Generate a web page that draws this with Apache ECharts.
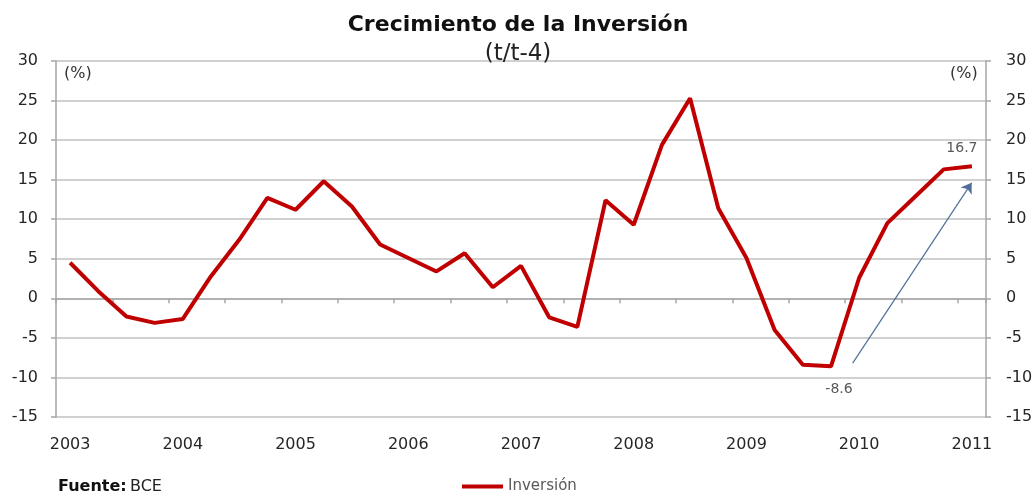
<!DOCTYPE html>
<html>
<head>
<meta charset="utf-8">
<script src="https://cdn.jsdelivr.net/npm/echarts@6/dist/echarts.min.js"></script>
<style>
  html, body { margin: 0; padding: 0; background: #fff; }
  #chart { width: 1036px; height: 496px; }
</style>
</head>
<body>
<div id="chart"></div>
<script>
// trimestres 2003T1 .. 2011T1
const quarters = [
  '2003T1', '2003T2', '2003T3', '2003T4',
  '2004T1', '2004T2', '2004T3', '2004T4',
  '2005T1', '2005T2', '2005T3', '2005T4',
  '2006T1', '2006T2', '2006T3', '2006T4',
  '2007T1', '2007T2', '2007T3', '2007T4',
  '2008T1', '2008T2', '2008T3', '2008T4',
  '2009T1', '2009T2', '2009T3', '2009T4',
  '2010T1', '2010T2', '2010T3', '2010T4',
  '2011T1'
];

// crecimiento interanual de la inversión (%)
const inversion = [
  4.5, 0.9, -2.3, -3.1,
  -2.6, 2.8, 7.4, 12.7,
  11.2, 14.8, 11.6, 6.8,
  5.1, 3.4, 5.7, 1.4,
  4.1, -2.4, -3.6, 12.4,
  9.3, 19.4, 25.3, 11.4,
  5.1, -4.0, -8.4, -8.6,
  2.6, 9.5, 12.9, 16.3,
  16.7
];

const yTicks = [-15, -10, -5, 0, 5, 10, 15, 20, 25, 30];

// puntos con etiqueta de valor
const labelMin = 27;   // -8.6
const labelLast = 32;  // 16.7

// flecha (posición en trimestres desde el inicio, valor en %)
const arrowStart = [28.27, -8.2];
const arrowEnd = [32.49, 14.6];

const chart = echarts.init(document.getElementById('chart'));

const seriesData = inversion.map((v, i) => {
  if (i === labelMin) {
    return { value: v, label: { show: true, position: 'bottom', offset: [8, 11] } };
  }
  if (i === labelLast) {
    return { value: v, label: { show: true, position: 'top', offset: [-10, -6] } };
  }
  return v;
});

const yAxisBase = {
  type: 'value',
  min: yTicks[0],
  max: yTicks[yTicks.length - 1],
  interval: 5,
  axisLine: { show: true, lineStyle: { color: '#a6a6a6', width: 1.5 } },
  axisTick: { show: true, length: 5, lineStyle: { color: '#a6a6a6', width: 1.5 } },
  axisLabel: { color: '#262626', fontSize: 16, fontFamily: 'DejaVu Sans' }
};

const option = {
  backgroundColor: '#fff',
  animation: false,
  title: [
    {
      text: 'Crecimiento de la Inversión',
      left: 'center',
      top: 9,
      textStyle: { fontFamily: 'DejaVu Sans', fontWeight: 'bold', fontSize: 22, color: '#111' }
    },
    {
      text: '(t/t-4)',
      left: 'center',
      top: 38,
      textStyle: { fontFamily: 'DejaVu Sans', fontWeight: 'normal', fontSize: 23, color: '#222' }
    }
  ],
  legend: {
    data: ['Inversión'],
    left: 457,
    top: 474,
    icon: 'rect',
    itemWidth: 41,
    itemHeight: 4,
    itemGap: 5,
    textStyle: { fontFamily: 'DejaVu Sans', fontSize: 15, color: '#595959' }
  },
  graphic: [
    {
      type: 'text',
      left: 58,
      top: 479,
      style: {
        text: '{b|Fuente:} {n|BCE}',
        rich: {
          b: { fontFamily: 'DejaVu Sans', fontWeight: 'bold', fontSize: 16, fill: '#111' },
          n: { fontFamily: 'DejaVu Sans', fontSize: 16, fill: '#222' }
        }
      }
    },
    {
      type: 'text', left: 64, top: 66,
      style: { text: '(%)', fontFamily: 'DejaVu Sans', fontSize: 16, fill: '#333' }
    },
    {
      type: 'text', left: 950, top: 66,
      style: { text: '(%)', fontFamily: 'DejaVu Sans', fontSize: 16, fill: '#333' }
    }
  ],
  grid: { left: 56, right: 50, top: 61, bottom: 79 },
  xAxis: [
    {
      // etiquetas de años abajo
      type: 'category',
      data: quarters,
      position: 'bottom',
      boundaryGap: true,
      axisLine: { show: false, onZero: false },
      axisTick: { show: false },
      axisLabel: {
        interval: 3,
        margin: 20,
        color: '#262626',
        fontSize: 16,
        fontFamily: 'DejaVu Sans',
        formatter: v => v.slice(0, 4)
      }
    },
    {
      // eje en cero con marcas
      type: 'category',
      data: quarters,
      position: 'top',
      boundaryGap: true,
      axisLine: { show: true, onZero: true, lineStyle: { color: '#a6a6a6', width: 1.5 } },
      axisTick: { show: true, inside: true, interval: 1, length: 5, lineStyle: { color: '#a6a6a6', width: 1.5 } },
      axisLabel: { show: false }
    },
    {
      // eje auxiliar para la flecha
      type: 'value',
      show: false,
      min: 0,
      max: quarters.length
    }
  ],
  yAxis: [
    Object.assign({}, yAxisBase, {
      position: 'left',
      axisLabel: Object.assign({}, yAxisBase.axisLabel, { margin: 18 }),
      splitLine: { show: true, lineStyle: { color: '#d0d0d0', width: 2 } }
    }),
    Object.assign({}, yAxisBase, {
      position: 'right',
      axisLabel: Object.assign({}, yAxisBase.axisLabel, { margin: 20 }),
      splitLine: { show: false }
    })
  ],
  series: [
    {
      name: 'Inversión',
      type: 'line',
      xAxisIndex: 0,
      yAxisIndex: 0,
      data: seriesData,
      showSymbol: true,
      symbol: 'circle',
      symbolSize: 0,
      color: '#c00000',
      lineStyle: { color: '#c00000', width: 4 },
      label: { color: '#595959', fontSize: 14, fontFamily: 'DejaVu Sans' },
      z: 5
    },
    {
      name: 'flecha',
      type: 'line',
      xAxisIndex: 2,
      yAxisIndex: 0,
      data: [],
      markLine: {
        silent: true,
        symbol: ['none', 'arrow'],
        symbolSize: 10,
        label: { show: false },
        lineStyle: { color: '#4f6f9a', width: 1.2, type: 'solid' },
        data: [[{ coord: arrowStart }, { coord: arrowEnd }]]
      }
    }
  ]
};

chart.setOption(option);
</script>
</body>
</html>
